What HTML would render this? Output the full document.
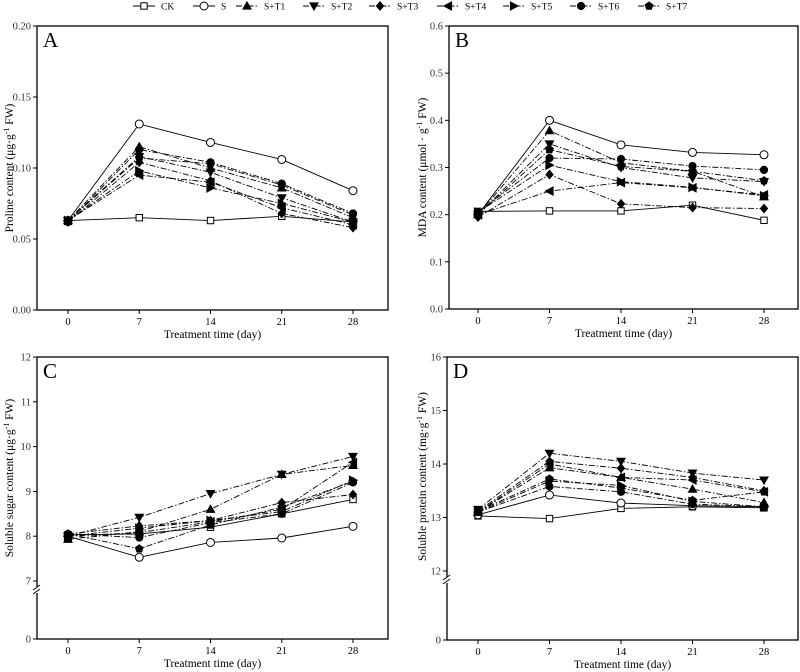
<!DOCTYPE html>
<html><head><meta charset="utf-8"><style>
body{margin:0;background:#fff;}
svg{display:block;font-family:"Liberation Serif",serif;}
</style></head><body>
<svg id="fig" width="800" height="672" viewBox="0 0 800 672"></svg>
<script>
const days=[0,7,14,21,28];
const seriesNames=["CK","S","S+T1","S+T2","S+T3","S+T4","S+T5","S+T6","S+T7"];
const markers=["sq","circ","up","down","diam","left","right","dot","pent"];
const proline={
CK:[0.063,0.065,0.063,0.066,0.062],S:[0.063,0.131,0.118,0.106,0.084],
T1:[0.063,0.115,0.100,0.086,0.065],T2:[0.063,0.108,0.097,0.079,0.062],
T3:[0.062,0.104,0.091,0.068,0.058],T4:[0.063,0.095,0.090,0.072,0.060],
T5:[0.063,0.098,0.086,0.075,0.062],T6:[0.062,0.113,0.104,0.089,0.068],
T7:[0.063,0.107,0.103,0.088,0.067]};
const mda={
CK:[0.207,0.208,0.208,0.220,0.188],S:[0.200,0.400,0.348,0.332,0.327],
T1:[0.200,0.378,0.310,0.292,0.238],T2:[0.200,0.350,0.300,0.278,0.270],
T3:[0.195,0.285,0.223,0.215,0.213],T4:[0.200,0.250,0.268,0.257,0.242],
T5:[0.205,0.305,0.270,0.258,0.240],T6:[0.205,0.320,0.318,0.303,0.295],
T7:[0.200,0.338,0.302,0.292,0.272]};
const sugar={
CK:[8.03,8.05,8.20,8.50,8.82],S:[8.00,7.53,7.86,7.96,8.22],
T1:[7.93,8.10,8.60,9.38,9.58],T2:[8.00,8.42,8.95,9.38,9.78],
T3:[8.05,8.23,8.35,8.75,8.93],T4:[8.00,8.08,8.32,8.60,9.65],
T5:[8.00,8.18,8.35,8.55,9.25],T6:[8.05,7.97,8.30,8.50,9.20],
T7:[8.05,7.72,8.25,8.65,9.22]};
const protein={
CK:[13.03,12.98,13.17,13.20,13.18],S:[13.05,13.42,13.27,13.22,13.20],
T1:[13.10,13.93,13.75,13.53,13.28],T2:[13.15,14.20,14.05,13.83,13.70],
T3:[13.12,14.05,13.92,13.75,13.50],T4:[13.10,14.00,13.75,13.70,13.48],
T5:[13.10,13.68,13.60,13.30,13.20],T6:[13.10,13.58,13.48,13.25,13.20],
T7:[13.12,13.72,13.55,13.32,13.48]};
const keys=["CK","S","T1","T2","T3","T4","T5","T6","T7"];
const ticksA=["0.00","0.05","0.10","0.15","0.20"];
const ticksB=["0.0","0.1","0.2","0.3","0.4","0.5","0.6"];
const ticksC=["7","8","9","10","11","12"];
const ticksD=["12","13","14","15","16"];

const NS="http://www.w3.org/2000/svg";
const svg=document.getElementById('fig');
function mk(tag,attrs,parent,text){const e=document.createElementNS(NS,tag);for(const k in attrs)e.setAttribute(k,attrs[k]);if(text!==undefined)e.textContent=text;(parent||svg).appendChild(e);return e;}

function marker(g,type,x,y){
  const s=3.6;let e;
  const fill=(type==="sq"||type==="circ")?"#fff":"#000";
  const st={fill:fill,stroke:"#000","stroke-width":1};
  if(type==="sq"){e=mk('rect',Object.assign({x:x-3.2,y:y-3.2,width:6.4,height:6.4},st),g);}
  else if(type==="circ"||type==="dot"){e=mk('circle',Object.assign({cx:x,cy:y,r:type==="dot"?3.6:4},st),g);}
  else{let p;
    if(type==="up")p=[[x,y-s-0.5],[x+s+0.5,y+s-0.5],[x-s-0.5,y+s-0.5]];
    else if(type==="down")p=[[x,y+s+0.5],[x+s+0.5,y-s+0.5],[x-s-0.5,y-s+0.5]];
    else if(type==="diam")p=[[x,y-s-0.6],[x+s,y],[x,y+s+0.6],[x-s,y]];
    else if(type==="left")p=[[x-s-0.5,y],[x+s,y-s-0.5],[x+s,y+s+0.5]];
    else if(type==="right")p=[[x+s+0.5,y],[x-s,y-s-0.5],[x-s,y+s+0.5]];
    else {p=[];for(let i=0;i<5;i++){const a=-Math.PI/2+i*2*Math.PI/5;p.push([x+4*Math.cos(a),y+4*Math.sin(a)]);}}
    e=mk('polygon',Object.assign({points:p.map(q=>q.join(',')).join(' ')},st),g);}
  
  
}

function panel(cfg){
  const g=mk('g',{});
  const xs=d=>cfg.x0+d*(cfg.x28-cfg.x0)/28;
  const ys=cfg.ys;
  mk('rect',{x:cfg.L,y:cfg.T,width:cfg.R-cfg.L,height:cfg.B-cfg.T,fill:"none",stroke:"#000","stroke-width":1.3,},g);
  // x ticks
  days.forEach(d=>{const x=xs(d);
    mk('line',{x1:x,x2:x,y1:cfg.B,y2:cfg.B+4,stroke:"#000"},g);
    mk('text',{x:x,y:cfg.B+15,'text-anchor':'middle','font-size':10.5,},g,String(d));});
  cfg.ticks.forEach(t=>{const y=ys(parseFloat(t));
    mk('line',{x1:cfg.L-4,x2:cfg.L,y1:y,y2:y,stroke:"#000"},g);
    mk('text',{x:cfg.L-6,y:y+3.5,'text-anchor':'end','font-size':10.5,fill:"#333",},g,t);});
  if(cfg.zero){const y=cfg.B;mk('line',{x1:cfg.L-4,x2:cfg.L,y1:y,y2:y,stroke:"#000"},g);
    mk('text',{x:cfg.L-6,y:y+3.5,'text-anchor':'end','font-size':10.5,fill:"#333",},g,"0");
    const by=cfg.brk;mk('rect',{x:cfg.L-4,y:by-3,width:8,height:6,fill:"#fff"},g);
    mk('line',{x1:cfg.L-4,y1:by,x2:cfg.L+3,y2:by-5,stroke:"#000"},g);
    mk('line',{x1:cfg.L-4,y1:by+4,x2:cfg.L+3,y2:by-1,stroke:"#000"},g);}
  mk('text',{x:cfg.L+6,y:cfg.T+21,'font-size':21,},g,cfg.letter);
  mk('text',{x:(cfg.L+cfg.R)/2,y:cfg.B+28,'text-anchor':'middle','font-size':11.5,},g,"Treatment time (day)");
  const yt=mk('text',{x:0,y:0,'text-anchor':'middle','font-size':11.5,transform:`translate(${cfg.ytx},${(cfg.T+cfg.B)/2+cfg.ytoff}) rotate(-90)`,},g);
  yt.innerHTML=cfg.ytitle;
  // series
  keys.forEach((k,i)=>{
    const vals=cfg.data[k];
    const pts=vals.map((v,j)=>[xs(days[j]),ys(v)]);
    const pl=mk('polyline',{points:pts.map(p=>p.join(',')).join(' '),fill:"none",stroke:"#000","stroke-width":0.9,"stroke-dasharray":i<2?"none":"6,2,1.5,2"},g);
    
    
    pts.forEach(p=>marker(g,markers[i],p[0],p[1]));
  });
}
function lin(v0,p0,v1,p1){return v=>p0+(v-v0)*(p1-p0)/(v1-v0);}
panel({name:'panel-a-proline',letter:'A',L:37,R:388,T:26,B:310,x0:68,x28:353,ys:lin(0,310,0.2,26),ticks:ticksA,data:proline,ytx:13,ytoff:0,ytitle:'Proline content (μg·g<tspan baseline-shift="super" font-size="8">-1</tspan> FW)'});
panel({name:'panel-b-mda',letter:'B',L:449,R:798,T:26,B:309,x0:478,x28:764,ys:lin(0,309,0.6,26),ticks:ticksB,data:mda,ytx:426,ytoff:0,ytitle:'MDA content (μmol · g<tspan baseline-shift="super" font-size="8">-1</tspan> FW)'});
panel({name:'panel-c-sugar',letter:'C',L:37,R:388,T:357,B:639,x0:68,x28:353,ys:lin(7,581,12,357),ticks:ticksC,data:sugar,zero:true,brk:590,ytx:13,ytoff:-20,ytitle:'Soluble sugar content (μg·g<tspan baseline-shift="super" font-size="8">-1</tspan> FW)'});
panel({name:'panel-d-protein',letter:'D',L:447,R:798,T:357,B:640,x0:478,x28:764,ys:lin(12,571,16,357),ticks:ticksD,data:protein,zero:true,brk:580,ytx:426,ytoff:-22,ytitle:'Soluble protein content (mg·g<tspan baseline-shift="super" font-size="8">-1</tspan> FW)'});
// legend
const lg=mk('g',{});
const legX=[133,193,236,303,369,437,503,570,638];
seriesNames.forEach((n,i)=>{
  const x=legX[i],y=6;
  const e=mk('g',{},lg);
  
  
  mk('line',{x1:x,x2:x+22,y1:y,y2:y,stroke:"#000","stroke-width":1,"stroke-dasharray":i<2?"none":"6,2,1.5,2"},e);
  marker(e,markers[i],x+11,y);
  mk('text',{x:x+28,y:y+3.5,'font-size':9.5},e,n);
});
</script>
</body></html>
